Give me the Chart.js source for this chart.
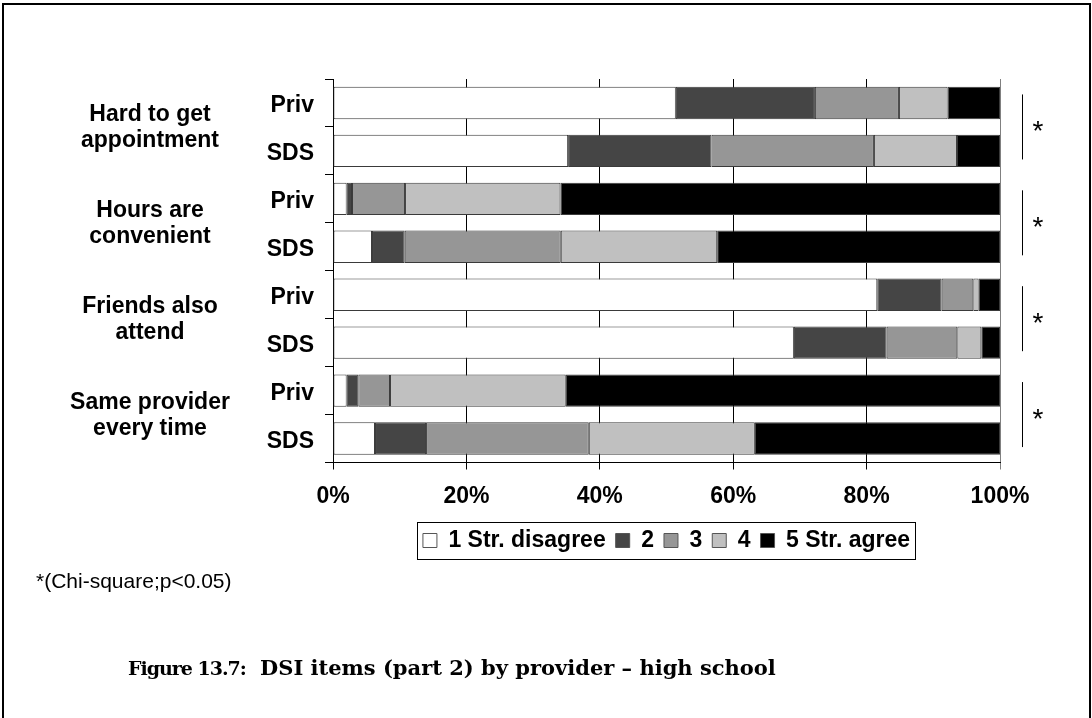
<!DOCTYPE html>
<html>
<head>
<meta charset="utf-8">
<script src="https://cdn.jsdelivr.net/npm/chart.js@4/dist/chart.umd.min.js"></script>
<style>
  body { margin: 0; background: #fff; }
  #wrap { position: relative; width: 1092px; height: 718px; overflow: hidden; }
  #chart { position: absolute; left: 0; top: 0; }
  .note { position: absolute; left: 36px; top: 569px; font: 21px "Liberation Sans", Arial, sans-serif; color: #000; }
  .cap { position: absolute; font: bold 21px "DejaVu Serif", "Liberation Serif", serif; color: #000; white-space: nowrap; }
</style>
</head>
<body>
<div id="wrap">
  <canvas id="chart" width="1092" height="718"></canvas>
  <div class="note">*(Chi-square;p&lt;0.05)</div>
  <div class="cap" style="left:128px; top:657px; font-size:19px; letter-spacing:-1px">Figure 13.7:</div>
  <div class="cap" style="left:260px; top:655px">DSI items (part 2) by provider – high school</div>
</div>
<script>
// rows: provider within each item
const rows = ['Priv', 'SDS', 'Priv', 'SDS', 'Priv', 'SDS', 'Priv', 'SDS'];
const items = [
    ['Hard to get', 'appointment'],
    ['Hours are', 'convenient'],
    ['Friends also', 'attend'],
    ['Same provider', 'every time']
];
const sig = ['*', '*', '*', '*'];

// percentage of answers per response level (1 = strongly disagree .. 5 = strongly agree)
const level1 = [51.4, 35.25, 2.05, 5.85, 81.6, 69.1, 2.05, 6.3];
const level2 = [20.85, 21.5, 0.8, 4.9, 9.65, 13.9, 1.75, 7.65];
const level3 = [12.6, 24.35, 7.95, 23.4, 4.75, 10.6, 4.75, 24.4];
const level4 = [7.3, 12.45, 23.3, 23.45, 0.8, 3.6, 26.35, 24.9];
const level5 = [7.85, 6.45, 65.9, 42.4, 3.2, 2.8, 65.1, 36.75];

const levelNames = ['1 Str. disagree', '2', '3', '4', '5 Str. agree'];
const xTicks = [0, 20, 40, 60, 80, 100];

const fills = ['#ffffff', '#454545', '#969696', '#c0c0c0', '#000000'];
const FONT = '"Liberation Sans", Arial, sans-serif';

Chart.defaults.font.family = FONT;
Chart.defaults.color = '#000';

// page frame, item labels, significance brackets and the legend box
const extras = {
    id: 'extras',
    beforeDraw(chart) {
        const ctx = chart.ctx;
        ctx.save();
        ctx.fillStyle = '#000';
        ctx.fillRect(2, 3, 1089, 2);
        ctx.fillRect(2, 3, 2, 715);
        ctx.fillRect(1089, 3, 2, 715);
        ctx.restore();
    },
    afterDraw(chart) {
        const ctx = chart.ctx;
        const y = chart.scales.y;
        const area = chart.chartArea;
        ctx.save();
        items.forEach((lines, g) => {
            const mid = (y.getPixelForValue(2 * g) + y.getPixelForValue(2 * g + 1)) / 2;
            ctx.font = 'bold 23px ' + FONT;
            ctx.fillStyle = '#000';
            ctx.textAlign = 'center';
            ctx.textBaseline = 'middle';
            ctx.fillText(lines[0], area.left - 183, mid - 12);
            ctx.fillText(lines[1], area.left - 183, mid + 14);

            // bracket + star
            ctx.strokeStyle = '#000';
            ctx.lineWidth = 1;
            ctx.beginPath();
            ctx.moveTo(area.right + 22.5, mid - 32.5);
            ctx.lineTo(area.right + 22.5, mid + 32.5);
            ctx.stroke();
            ctx.font = '28px ' + FONT;
            ctx.textBaseline = 'alphabetic';
            ctx.fillText(sig[g], area.right + 38, mid + 13);
        });

        // border round the legend
        const boxes = chart.legend.legendHitBoxes;
        if (boxes.length) {
            const left = Math.min(...boxes.map(b => b.left)) - 6;
            const right = Math.max(...boxes.map(b => b.left + b.width)) + 5;
            const cy = boxes[0].top + boxes[0].height / 2;
            ctx.strokeStyle = '#000';
            ctx.lineWidth = 1;
            ctx.strokeRect(Math.round(left) + 0.5, Math.round(cy - 19) + 0.5, Math.round(right - left), 37);
        }
        ctx.restore();
    }
};

const datasets = [level1, level2, level3, level4, level5].map((vals, i) => ({
    label: levelNames[i],
    data: vals,
    backgroundColor: fills[i],
    borderColor: '#3a3a3a',
    borderWidth: 1,
    borderSkipped: false,
    categoryPercentage: 1,
    barPercentage: 0.675
}));

new Chart(document.getElementById('chart'), {
    type: 'bar',
    data: { labels: rows, datasets: datasets },
    plugins: [extras],
    options: {
        indexAxis: 'y',
        responsive: false,
        animation: false,
        devicePixelRatio: 1,
        layout: { padding: { top: 79, left: 0, right: 92, bottom: 156 } },
        plugins: {
            tooltip: { enabled: false },
            legend: {
                position: 'bottom',
                fullSize: false,
                labels: {
                    boxWidth: 14,
                    boxHeight: 14,
                    padding: 10,
                    color: '#000',
                    font: { size: 23, weight: 'bold' },
                    generateLabels: chart => levelNames.map((name, i) => ({
                        text: name,
                        fillStyle: fills[i],
                        strokeStyle: '#555',
                        lineWidth: 1,
                        datasetIndex: i
                    }))
                }
            }
        },
        scales: {
            x: {
                stacked: true,
                min: 0,
                max: 100,
                afterBuildTicks: s => { s.ticks = xTicks.map(v => ({ value: v })); },
                afterFit: s => { s.height = 56.5; },
                ticks: {
                    padding: 13,
                    font: { size: 23, weight: 'bold' },
                    callback: v => v + '%'
                },
                grid: {
                    color: c => (c.tick && c.tick.value === 100) ? '#808080' : '#000',
                    lineWidth: 1,
                    tickLength: 7,
                    drawOnChartArea: true
                },
                border: { display: true, color: '#000', width: 1 }
            },
            y: {
                stacked: true,
                afterFit: s => { s.width = 333; },
                ticks: {
                    padding: 11,
                    labelOffset: 3,
                    font: { size: 23, weight: 'bold' }
                },
                grid: {
                    offset: true,
                    drawOnChartArea: false,
                    tickLength: 8,
                    color: '#000'
                },
                border: { display: true, color: '#000', width: 1 }
            }
        }
    }
});
</script>
</body>
</html>
